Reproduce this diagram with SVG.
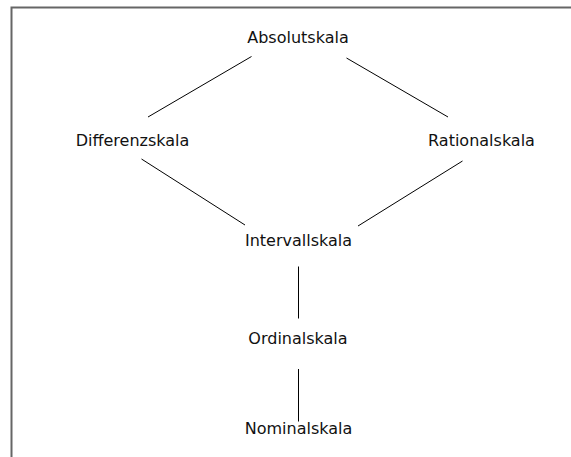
<svg xmlns="http://www.w3.org/2000/svg" width="571" height="457" viewBox="0 0 571 457">
<style>
.lbl{font-family:"DejaVu Sans",sans-serif;font-size:16px;fill:#111;text-anchor:middle}
.edge{stroke:#000;stroke-width:1;fill:none}
.frame{stroke:#666;stroke-width:2;fill:none}
</style>
<rect width="571" height="457" fill="#fff"/>
<path class="frame" d="M11.5,457 V7.5 H571"/>
<g id="connectors">
<line class="edge" x1="251.5" y1="56.5" x2="148" y2="117"/>
<line class="edge" x1="346.5" y1="58" x2="448" y2="117"/>
<line class="edge" x1="141.5" y1="159" x2="245" y2="225"/>
<line class="edge" x1="462.5" y1="161" x2="358" y2="226"/>
<line class="edge" x1="298.5" y1="266.5" x2="298.5" y2="318.5"/>
<line class="edge" x1="298.5" y1="369" x2="298.5" y2="421.5"/>
</g>
<g id="absolutskala"><text class="lbl" x="298" y="43">Absolutskala</text></g>
<g id="differenzskala"><text class="lbl" x="132.5" y="146">Differenzskala</text></g>
<g id="rationalskala"><text class="lbl" x="481.5" y="146">Rationalskala</text></g>
<g id="intervallskala"><text class="lbl" x="298.5" y="246">Intervallskala</text></g>
<g id="ordinalskala"><text class="lbl" x="298" y="344">Ordinalskala</text></g>
<g id="nominalskala"><text class="lbl" x="298.5" y="434">Nominalskala</text></g>
</svg>
